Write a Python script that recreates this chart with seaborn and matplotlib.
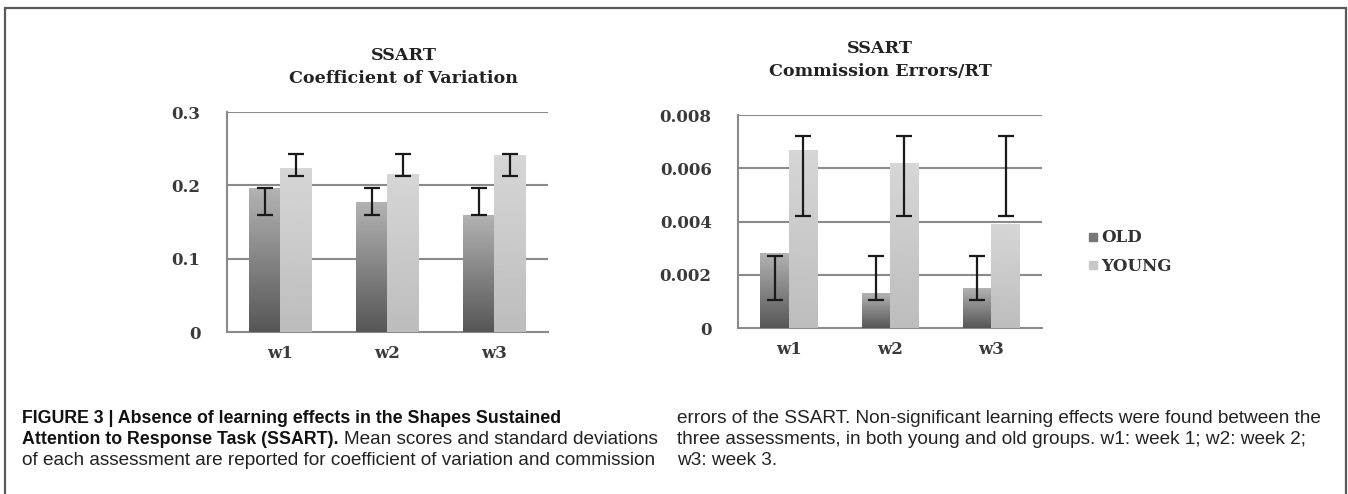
import numpy as np
import pandas as pd
import seaborn as sns
import matplotlib
matplotlib.use('Agg')
import matplotlib.pyplot as plt
from matplotlib.lines import Line2D
from matplotlib.patches import Rectangle

# data
weeks = ['w1', 'w2', 'w3']
groups = ['OLD', 'YOUNG']

cv_old = [0.196, 0.177, 0.160]
cv_young = [0.224, 0.216, 0.242]
cv_old_lo = [0.159, 0.159, 0.159]
cv_old_hi = [0.197, 0.197, 0.197]
cv_young_lo = [0.213, 0.213, 0.213]
cv_young_hi = [0.243, 0.243, 0.243]

ce_old = [0.0028, 0.0013, 0.0015]
ce_young = [0.0067, 0.0062, 0.0039]
ce_old_lo = [0.00105, 0.00105, 0.00105]
ce_old_hi = [0.0027, 0.0027, 0.0027]
ce_young_lo = [0.0042, 0.0042, 0.0042]
ce_young_hi = [0.0072, 0.0072, 0.0072]

cv_ticks = [0, 0.1, 0.2, 0.3]
cv_ticklabels = ['0', '0.1', '0.2', '0.3']
ce_ticks = [0, 0.002, 0.004, 0.006, 0.008]
ce_ticklabels = ['0', '0.002', '0.004', '0.006', '0.008']


def long_table(old, young):
    return pd.DataFrame({'week': weeks * 2,
                         'group': ['OLD'] * 3 + ['YOUNG'] * 3,
                         'value': old + young})


cv = long_table(cv_old, cv_young)
ce = long_table(ce_old, ce_young)

sns.set_theme(style='white')
plt.rcParams['font.family'] = ['DejaVu Serif']

fig = plt.figure(figsize=(13.48, 4.94), dpi=100)
ax1 = fig.add_axes([0.1684, 0.3279, 0.2381, 0.4453])
ax2 = fig.add_axes([0.5475, 0.3360, 0.2255, 0.4312])

# gradients for the bars (bottom -> top)
grad_old = np.linspace(0.34, 0.70, 100)[:, None]
grad_young = np.linspace(0.74, 0.84, 100)[:, None]
tick_col = '#3a3a3a'
grid_col = '#8a8a8a'


def draw_panel(ax, data, width, lo_old, hi_old, lo_young, hi_young, ymax, ticks, ticklabels):
    sns.barplot(data=data, x='week', y='value', hue='group', hue_order=groups,
                palette=['#808080', '#cccccc'], width=width, ax=ax,
                legend=False, zorder=2, linewidth=0)
    xlim = (-0.5, 2.5)
    # gradient fill clipped to each bar
    for cont, grad in zip(ax.containers, [grad_old, grad_young]):
        for bar in cont:
            x0, w, h = bar.get_x(), bar.get_width(), bar.get_height()
            im = ax.imshow(grad, cmap='gray', vmin=0, vmax=1, origin='lower',
                           extent=[x0, x0 + w, 0, h], aspect='auto', zorder=3)
            im.set_clip_path(bar)
    ax.set_xlim(*xlim)
    ax.set_ylim(0, ymax)
    # error bars
    for cont, lo, hi in zip(ax.containers, [lo_old, lo_young], [hi_old, hi_young]):
        xs = [b.get_x() + b.get_width() / 2 for b in cont]
        mid = [(a + b) / 2 for a, b in zip(lo, hi)]
        half = [(b - a) / 2 for a, b in zip(lo, hi)]
        ax.errorbar(xs, mid, yerr=half, fmt='none', ecolor='#1a1a1a',
                    elinewidth=1.6, capsize=6, capthick=1.6, zorder=4)
    ax.set_yticks(ticks)
    ax.set_yticklabels(ticklabels)
    for t in ticks[1:]:
        ax.axhline(t, color=grid_col, lw=1.5, zorder=1)
    ax.set_xticks([0, 1, 2])
    ax.set_xticks([-0.5, 0.5, 1.5, 2.5], minor=True)
    ax.tick_params(axis='x', which='major', length=0, pad=9)
    ax.tick_params(axis='x', which='minor', length=5, width=1.3, color=grid_col, direction='out')
    ax.tick_params(axis='y', length=9, width=1.5, color=grid_col, direction='out', pad=10)
    for lab in ax.get_xticklabels() + ax.get_yticklabels():
        lab.set_fontweight('bold')
        lab.set_fontsize(12)
        lab.set_color(tick_col)
    for s in ['top', 'right']:
        ax.spines[s].set_visible(False)
    for s in ['left', 'bottom']:
        ax.spines[s].set_color(grid_col)
        ax.spines[s].set_linewidth(1.5)
    ax.set_xlabel('')
    ax.set_ylabel('')


draw_panel(ax1, cv, 0.58, cv_old_lo, cv_old_hi, cv_young_lo, cv_young_hi, 0.3,
           cv_ticks, cv_ticklabels)
draw_panel(ax2, ce, 0.56, ce_old_lo, ce_old_hi, ce_young_lo, ce_young_hi, 0.008,
           ce_ticks, ce_ticklabels)

ax1.set_title('SSART\nCoefficient of Variation', fontsize=12.6, fontweight='bold',
              color='#222222', x=0.551, pad=21, linespacing=1.45)
ax2.set_title('SSART\nCommission Errors/RT', fontsize=12.6, fontweight='bold',
              color='#222222', x=0.467, pad=28, linespacing=1.45)

handles = [Line2D([], [], marker='s', ls='', markersize=6, color='#777777'),
           Line2D([], [], marker='s', ls='', markersize=6, color='#c8c8c8')]
leg = fig.legend(handles, groups, loc='upper left', bbox_to_anchor=(0.795, 0.566),
                 frameon=False, handletextpad=0.05, handlelength=0.8,
                 labelspacing=0.7, prop={'family': 'DejaVu Serif', 'weight': 'bold', 'size': 12})
for t in leg.get_texts():
    t.set_color('#333333')

# figure frame (bottom edge runs off the picture)
fig.patches.append(Rectangle((5 / 1348, -0.1), 1341 / 1348, 1.1 - 8 / 494,
                             transform=fig.transFigure, fill=False,
                             edgecolor='#5a5a5a', lw=1.6))

# caption
cap_font = 'Liberation Sans'
bold_size = 12.8
reg_size = 13.7
cap_col = '#222222'
lines_y = [1 - 418 / 494, 1 - 439 / 494, 1 - 460 / 494]

fig.text(22 / 1348, lines_y[0], 'FIGURE 3 | Absence of learning effects in the Shapes Sustained',
         family=cap_font, weight='bold', size=bold_size, color='#111111', va='center')
bold2 = fig.text(22 / 1348, lines_y[1], 'Attention to Response Task (SSART).',
                 family=cap_font, weight='bold', size=bold_size, color='#111111', va='center')
fig.canvas.draw()
bb = bold2.get_window_extent(renderer=fig.canvas.get_renderer())
fig.text(bb.x1 / 1348 + 5 / 1348, lines_y[1], 'Mean scores and standard deviations',
         family=cap_font, size=reg_size, color=cap_col, va='center')
fig.text(22 / 1348, lines_y[2], 'of each assessment are reported for coefficient of variation and commission',
         family=cap_font, size=reg_size, color=cap_col, va='center')

right_lines = ['errors of the SSART. Non-significant learning effects were found between the',
               'three assessments, in both young and old groups. w1: week 1; w2: week 2;',
               'w3: week 3.']
for y, txt in zip(lines_y, right_lines):
    fig.text(677 / 1348, y, txt, family=cap_font, size=reg_size, color=cap_col, va='center')

fig.savefig('out.png', dpi=100)
